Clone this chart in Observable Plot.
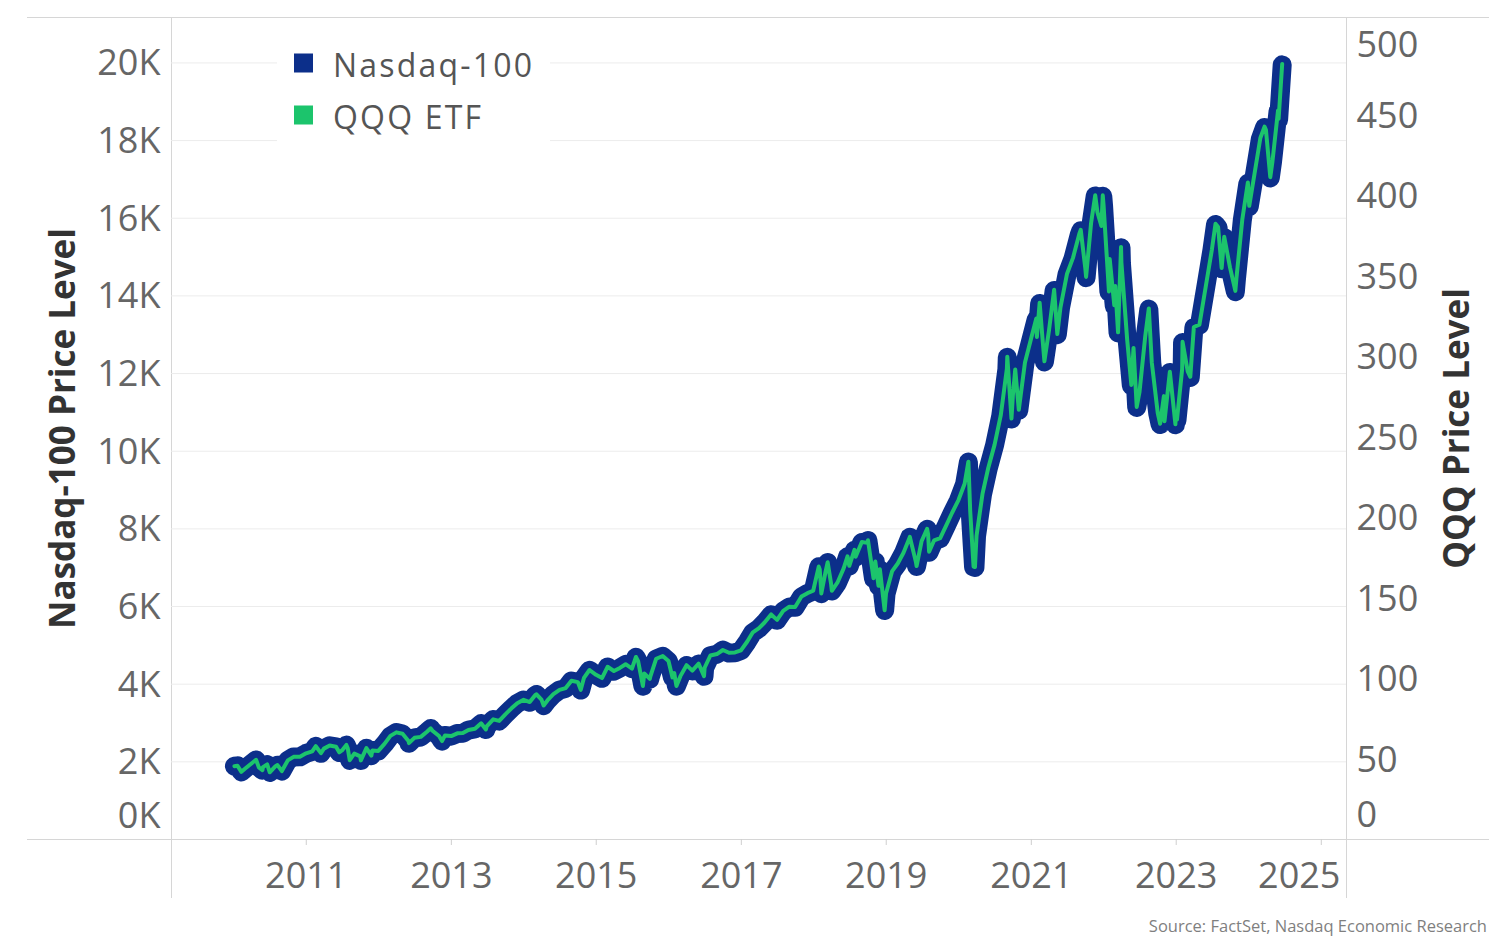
<!DOCTYPE html>
<html>
<head>
<meta charset="utf-8">
<script src="https://cdn.jsdelivr.net/npm/d3@7"></script>
<script src="https://cdn.jsdelivr.net/npm/@observablehq/plot@0.6"></script>
<style>
html, body { margin: 0; padding: 0; background: #fff; overflow: hidden; }
#wrap { position: relative; width: 1496px; height: 946px; overflow: hidden; font-family: "Open Sans", sans-serif; }
#wrap > svg, #wrap > figure { position: absolute; left: 0; top: 0; margin: 0; }
.hl { position: absolute; height: 1px; background: #d6d6d6; }
.vl { position: absolute; width: 1px; background: #d6d6d6; }
#legend { position: absolute; left: 277px; top: 30px; width: 273px; height: 125px; background: #fff; }
#source { position: absolute; right: 9px; top: 914px; font-size: 16.5px; color: #7f7f7f; white-space: nowrap; }
</style>
</head>
<body>
<div id="wrap">
  <div class="hl" style="left:27px;top:17px;width:1462px;"></div>
  <div class="hl" style="left:27px;top:839px;width:1462px;"></div>
  <div class="vl" style="left:171px;top:17px;height:881px;"></div>
  <div class="vl" style="left:1346px;top:17px;height:881px;"></div>
</div>
<script>
// ---- Data ----
const dates = [
  "2010-01-04","2010-01-19","2010-02-08","2010-02-26","2010-03-31","2010-04-23","2010-05-07","2010-05-25","2010-05-28","2010-06-18","2010-07-01","2010-07-30","2010-08-09","2010-08-31","2010-09-30","2010-10-29","2010-11-30","2010-12-31",
  "2011-01-31","2011-02-18","2011-03-16","2011-03-31","2011-04-29","2011-05-31","2011-06-16","2011-06-30","2011-07-22","2011-07-29","2011-08-08","2011-08-31","2011-09-30","2011-10-03","2011-10-31","2011-11-25","2011-11-30","2011-12-30",
  "2012-01-31","2012-02-29","2012-03-30","2012-04-30","2012-05-31","2012-06-01","2012-06-29","2012-07-31","2012-08-31","2012-09-19","2012-09-28","2012-10-31","2012-11-15","2012-11-30","2012-12-31",
  "2013-01-31","2013-02-28","2013-03-28","2013-04-30","2013-05-31","2013-06-24","2013-06-28","2013-07-31","2013-08-30","2013-09-30","2013-10-31","2013-11-29","2013-12-31",
  "2014-01-31","2014-02-28","2014-03-06","2014-03-31","2014-04-11","2014-04-30","2014-05-30","2014-06-30","2014-07-31","2014-08-29","2014-09-30","2014-10-15","2014-10-31","2014-11-28","2014-12-31",
  "2015-01-30","2015-02-27","2015-03-31","2015-04-30","2015-05-29","2015-06-30","2015-07-20","2015-07-31","2015-08-24","2015-08-31","2015-09-28","2015-09-30","2015-10-30","2015-12-02","2015-12-31",
  "2016-01-20","2016-01-29","2016-02-09","2016-02-29","2016-03-31","2016-04-29","2016-05-31","2016-06-27","2016-06-30","2016-07-29","2016-08-31","2016-09-30","2016-10-31","2016-11-30","2016-12-30",
  "2017-01-31","2017-02-28","2017-03-31","2017-04-28","2017-05-31","2017-06-30","2017-07-31","2017-08-31","2017-09-29","2017-10-31","2017-11-30","2017-12-29",
  "2018-01-26","2018-01-31","2018-02-08","2018-02-28","2018-03-12","2018-03-29","2018-04-02","2018-04-30","2018-05-31","2018-06-20","2018-06-29","2018-07-25","2018-07-31","2018-08-31","2018-09-28","2018-10-01","2018-10-29","2018-10-31","2018-11-07","2018-11-23","2018-11-30","2018-12-24","2018-12-31",
  "2019-01-31","2019-02-28","2019-03-29","2019-04-30","2019-05-31","2019-06-03","2019-06-28","2019-07-26","2019-07-31","2019-08-05","2019-08-30","2019-09-30","2019-10-31","2019-11-29","2019-12-31",
  "2020-01-31","2020-02-19","2020-02-28","2020-03-16","2020-03-23","2020-03-31","2020-04-30","2020-05-29","2020-06-30","2020-07-31","2020-08-31","2020-09-02","2020-09-23","2020-09-30","2020-10-12","2020-10-30","2020-11-30","2020-12-31",
  "2021-01-26","2021-01-29","2021-02-12","2021-02-26","2021-03-08","2021-03-31","2021-04-26","2021-04-30","2021-05-12","2021-05-28","2021-06-30","2021-07-30","2021-08-31","2021-09-07","2021-09-30","2021-10-04","2021-10-29","2021-11-19","2021-11-30","2021-12-20","2021-12-27","2021-12-31",
  "2022-01-27","2022-01-31","2022-02-23","2022-02-28","2022-03-14","2022-03-29","2022-03-31","2022-04-29","2022-05-20","2022-05-31","2022-06-16","2022-06-30","2022-07-29","2022-08-16","2022-08-31","2022-09-30","2022-10-12","2022-10-31","2022-11-03","2022-11-30","2022-12-28","2022-12-30",
  "2023-01-05","2023-01-31","2023-02-02","2023-02-28","2023-03-13","2023-03-31","2023-04-28","2023-05-31","2023-06-30","2023-07-18","2023-07-31","2023-08-18","2023-08-31","2023-09-29","2023-10-26","2023-10-31","2023-11-30","2023-12-28",
  "2024-01-04","2024-01-31","2024-02-29","2024-03-21","2024-03-28","2024-04-19","2024-04-30","2024-05-28","2024-05-31","2024-06-18"
];
const nasdaq100 = [
  1886,1897,1742,1818,1957,2050,1858,1786,1860,1930,1729,1886,1915,1761,2036,2127,2128,2217,
  2266,2398,2220,2338,2414,2385,2240,2292,2431,2346,2037,2209,2139,2036,2350,2160,2290,2278,
  2464,2664,2755,2717,2528,2478,2615,2640,2772,2860,2799,2659,2534,2678,2661,
  2731,2738,2819,2848,2986,2830,2909,3090,3049,3218,3374,3506,3592,
  3536,3716,3735,3596,3446,3577,3736,3849,3895,4083,4050,3850,4158,4358,4236,
  4151,4441,4334,4415,4509,4397,4695,4589,3950,4274,4130,4181,4648,4719,4593,
  4170,4280,3950,4202,4483,4341,4523,4202,4418,4731,4771,4875,4801,4810,4864,
  5095,5330,5436,5584,5788,5647,5880,5989,5979,6248,6337,6397,
  7022,6950,6330,6854,7131,6582,6400,6605,6968,7280,7040,7450,7272,7650,7628,7697,6720,6968,7150,6526,6949,5899,6330,
  6906,7100,7378,7781,7127,7033,7671,7990,7848,7400,7692,7750,8084,8404,8733,
  9150,9719,8462,7020,7006,7813,8890,9555,10157,10905,12111,12420,10830,11418,12088,11052,12268,12888,
  13400,12925,13807,12909,12300,13091,14138,13861,13000,13687,14554,14959,15583,15680,14690,14470,15851,16573,16135,15780,16567,16320,
  14100,14930,13740,14237,13047,15240,14839,12855,11690,12643,11128,11504,12947,13660,12272,10971,10690,11406,10760,12030,10679,10940,
  10800,12102,12800,12042,11900,13181,13246,14254,15180,15840,15757,14700,15501,14715,14110,14409,15948,16900,
  16300,17137,18044,18339,18255,17037,17441,18750,18537,19950
];
const qqqEtf = [
  45.5,45.8,42.0,43.9,47.2,49.5,44.8,43.1,44.9,46.6,41.7,45.5,46.2,42.5,49.1,51.3,51.4,53.5,
  54.7,57.9,53.6,56.4,58.3,57.6,54.1,55.3,58.7,56.6,49.2,53.3,51.6,49.1,56.7,52.1,55.3,55.0,
  59.5,64.3,66.5,65.6,61.0,59.8,63.1,63.7,66.9,69.0,67.5,64.2,61.1,64.6,64.2,
  65.9,66.1,68.0,68.7,72.1,68.3,70.2,74.6,73.6,77.7,81.4,84.6,86.7,
  85.3,89.7,90.1,86.8,83.2,86.3,90.2,92.9,94.0,98.5,97.7,92.9,100.3,105.2,102.2,
  100.2,107.2,104.6,106.5,108.8,106.1,113.3,110.7,95.3,103.1,99.7,100.9,112.2,113.9,110.8,
  100.6,103.3,95.3,101.4,108.2,104.8,109.1,101.4,106.6,114.2,115.1,117.6,115.9,116.1,117.4,
  122.9,128.6,131.2,134.7,139.7,136.3,141.9,144.5,144.3,150.8,152.9,154.4,
  169.4,167.7,152.7,165.4,172.1,158.8,154.4,159.4,168.1,175.7,169.9,179.8,175.5,184.6,184.1,185.7,162.2,168.1,172.5,157.5,167.7,142.3,152.7,
  166.6,171.3,178.0,187.8,172.0,169.7,185.1,192.8,189.4,178.6,185.6,187.0,195.1,202.8,210.7,
  220.8,234.5,204.2,169.4,169.1,188.5,214.5,230.6,245.1,263.2,292.3,299.7,261.3,275.5,291.7,266.7,296.0,311.0,
  323.4,311.9,333.2,311.5,296.8,315.9,341.2,334.5,313.7,330.3,351.2,361.0,376.0,378.4,354.5,349.2,382.5,399.9,389.4,380.8,399.8,393.8,
  340.2,360.3,331.6,343.6,314.8,367.8,358.1,310.2,282.1,305.1,268.5,277.6,312.4,329.6,296.1,264.7,258.0,275.2,259.6,290.3,257.7,264.0,
  260.6,292.0,308.9,290.6,287.2,318.1,319.6,344.0,366.3,382.2,380.2,354.7,374.1,355.1,340.5,347.7,384.8,407.8,
  393.3,413.5,435.4,442.5,440.5,411.1,420.9,452.5,447.3,481.4
];
const leftTicks = [0, 2000, 4000, 6000, 8000, 10000, 12000, 14000, 16000, 18000, 20000];
const rightTicks = [0, 50, 100, 150, 200, 250, 300, 350, 400, 450, 500];
const yearTicks = [2011, 2013, 2015, 2017, 2019, 2021, 2023, 2025];
const seriesNames = ["Nasdaq-100", "QQQ ETF"];
const seriesColors = ["#0c2f8a", "#1cc46c"];
const leftTitle = "Nasdaq-100 Price Level";
const rightTitle = "QQQ Price Level";
const sourceText = "Source: FactSet, Nasdaq Economic Research";

// ---- Build ----
const toDate = s => new Date(s + "T00:00:00Z");
const ndxRows = dates.map((d, i) => ({date: toDate(d), value: nasdaq100[i]}));
const qqqRows = dates.map((d, i) => ({date: toDate(d), value: qqqEtf[i]}));
const yearDates = yearTicks.map(y => new Date(Date.UTC(y, 0, 1)));
const lastYear = yearTicks[yearTicks.length - 1];

const font = "'Open Sans', sans-serif";
const tickFill = "#666666";
const tickSize = 36;
const common = {
  width: 1496, height: 946,
  marginLeft: 171, marginRight: 150, marginTop: 17, marginBottom: 107,
  x: {type: "utc", domain: [new Date(Date.UTC(2009, 1, 21)), new Date(Date.UTC(2025, 4, 8))], axis: null},
  style: {background: "transparent", fontFamily: font, overflow: "visible"}
};

const p1 = Plot.plot({
  ...common,
  y: {domain: [0, 21170], axis: null},
  marks: [
    Plot.gridY(leftTicks.filter(t => t > 0), {stroke: "#ececec", strokeOpacity: 1}),
    Plot.axisX(yearDates, {tickSize: 6, stroke: "#cfcfcf", tickFormat: () => "", label: null}),
    Plot.text(leftTicks.filter(t => t > 0), {y: d => d, text: d => `${d / 1000}K`, frameAnchor: "left", textAnchor: "end", lineAnchor: "middle", dx: -11, dy: 1, fontSize: tickSize, fill: tickFill}),
    Plot.text(leftTicks.filter(t => t === 0), {y: d => d, text: d => `${d / 1000}K`, frameAnchor: "left", textAnchor: "end", lineAnchor: "middle", dx: -11, dy: -23, fontSize: tickSize, fill: tickFill}),
    Plot.text(yearDates.filter(d => d.getUTCFullYear() !== lastYear), {x: d => d, text: d => String(d.getUTCFullYear()), frameAnchor: "bottom", lineAnchor: "middle", textAnchor: "middle", dy: 36.5, fontSize: tickSize, fill: tickFill}),
    Plot.text(yearDates.filter(d => d.getUTCFullYear() === lastYear), {x: d => d, text: d => String(d.getUTCFullYear()), frameAnchor: "bottom", lineAnchor: "middle", textAnchor: "middle", dy: 36.5, dx: -22, fontSize: tickSize, fill: tickFill}),
    Plot.text([leftTitle], {text: d => d, frameAnchor: "left", textAnchor: "middle", lineAnchor: "middle", dx: -108, rotate: -90, fontSize: 35, fontWeight: "bold", fill: "#333333"}),
    Plot.line(ndxRows, {x: "date", y: "value", stroke: seriesColors[0], strokeWidth: 19, strokeLinejoin: "round", strokeLinecap: "round"})
  ]
});

const p2 = Plot.plot({
  ...common,
  y: {domain: [0, 510.2], axis: null},
  marks: [
    Plot.text(rightTicks.filter(t => t > 0 && t < 500), {y: d => d, text: d => String(d), frameAnchor: "right", textAnchor: "start", lineAnchor: "middle", dx: 10, dy: 1.5, fontSize: tickSize, fill: tickFill}),
    Plot.text(rightTicks.filter(t => t === 500), {y: d => d, text: d => String(d), frameAnchor: "right", textAnchor: "start", lineAnchor: "middle", dx: 10, dy: 11.5, fontSize: tickSize, fill: tickFill}),
    Plot.text(rightTicks.filter(t => t === 0), {y: d => d, text: d => String(d), frameAnchor: "right", textAnchor: "start", lineAnchor: "middle", dx: 10, dy: -24, fontSize: tickSize, fill: tickFill}),
    Plot.text([rightTitle], {text: d => d, frameAnchor: "right", textAnchor: "middle", lineAnchor: "middle", dx: 111, rotate: -90, fontSize: 35, fontWeight: "bold", fill: "#333333"}),
    Plot.line(qqqRows, {x: "date", y: "value", stroke: seriesColors[1], strokeWidth: 4, strokeLinejoin: "round", strokeLinecap: "round"})
  ]
});

const wrap = document.getElementById("wrap");
wrap.appendChild(p1);

// legend
const legend = document.createElement("div");
legend.id = "legend";
wrap.appendChild(legend);
const lsvg = d3.select(legend).append("svg").attr("width", 273).attr("height", 125);
const items = lsvg.selectAll("g").data(seriesNames).join("g")
  .attr("transform", (d, i) => `translate(0, ${i * 52})`);
items.append("rect").attr("x", 17).attr("y", 23.5).attr("width", 19).attr("height", 19)
  .attr("fill", (d, i) => seriesColors[i]);
items.append("text").attr("x", 56).attr("y", 46.5).text(d => d)
  .attr("font-family", font).attr("font-size", 32).attr("letter-spacing", 2.2).attr("fill", "#555555");

wrap.appendChild(p2);

const src = document.createElement("div");
src.id = "source";
src.textContent = sourceText;
wrap.appendChild(src);
</script>
</body>
</html>
